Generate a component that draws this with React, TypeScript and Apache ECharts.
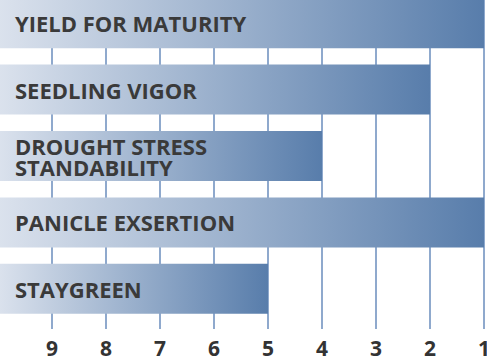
import React, { useEffect, useRef } from "react";
import * as echarts from "echarts";

const categories = [
  "YIELD FOR MATURITY",
  "SEEDLING VIGOR",
  "DROUGHT STRESS\nSTANDABILITY",
  "PANICLE EXSERTION",
  "STAYGREEN",
];
const ratings = [1, 2, 4, 1, 5];
const tickValues = [9, 8, 7, 6, 5, 4, 3, 2, 1];
const scaleStart = 10;

export default function App() {
  const ref = useRef<HTMLDivElement>(null);
  useEffect(() => {
    if (!ref.current) return;
    const chart = echarts.init(ref.current, undefined, { renderer: "svg" });
    const gridColor = "#8fa9cd";
    chart.setOption({
      animation: false,
      backgroundColor: "#ffffff",
      grid: {
        left: -2,
        right: 3,
        top: -10,
        bottom: 36,
        containLabel: false,
        outerBoundsMode: "none",
      },
      xAxis: {
        type: "value",
        inverse: true,
        min: 1,
        max: scaleStart,
        startValue: scaleStart,
        interval: 1,
        axisLine: { show: false },
        axisTick: { show: true, length: 7, lineStyle: { color: gridColor, width: 2 } },
        splitLine: { show: true, lineStyle: { color: gridColor, width: 2 } },
        axisLabel: {
          margin: 15,
          fontSize: 21,
          fontWeight: "bold",
          fontFamily: "Open Sans",
          color: "#333333",
          formatter: (v: number) => (tickValues.indexOf(v) >= 0 ? String(v) : ""),
        },
      },
      yAxis: {
        type: "category",
        inverse: true,
        data: categories,
        axisLine: { show: false },
        axisTick: { show: false },
        axisLabel: { show: false },
        splitLine: { show: false },
      },
      series: [
        {
          type: "bar",
          data: ratings,
          barWidth: 50,
          itemStyle: {
            color: new echarts.graphic.LinearGradient(0, 0, 1, 0, [
              { offset: 0, color: "#dbe2ed" },
              { offset: 1, color: "#587dab" },
            ]),
          },
          label: {
            show: true,
            position: "insideLeft",
            distance: 17,
            formatter: (p: any) => categories[p.dataIndex],
            fontSize: 22,
            lineHeight: 21,
            fontWeight: "bold",
            fontFamily: "Open Sans",
            color: "#3a3a3a",
          },
        },
      ],
    });
    return () => chart.dispose();
  }, []);
  return <div ref={ref} style={{ width: 487, height: 358, position: "fixed", left: 0, top: 0 }} />;
}
